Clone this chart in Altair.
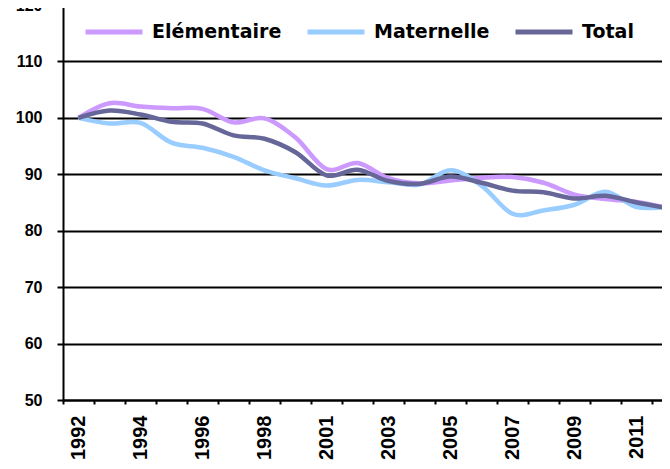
import json
import altair as alt
import pandas as pd

years = ["1992", "1993", "1994", "1995", "1996", "1997", "1998", "1999", "2001", "2002",
         "2003", "2004", "2005", "2006", "2007", "2008", "2009", "2010", "2011", "2012"]
elementaire = [100.0, 102.6, 102.0, 101.7, 101.6, 99.2, 99.9, 96.5, 90.9, 92.0,
               89.3, 88.4, 88.9, 89.4, 89.5, 88.5, 86.4, 85.6, 85.1, 84.0]
maternelle = [100.0, 99.0, 99.1, 95.6, 94.7, 93.1, 90.7, 89.3, 88.0, 89.0,
              88.6, 88.2, 90.7, 88.0, 83.0, 83.6, 84.6, 86.9, 84.2, 84.3]
total = [100.0, 101.3, 100.6, 99.3, 99.0, 96.9, 96.3, 93.9, 89.8, 90.8,
         88.8, 88.3, 89.6, 88.5, 87.1, 86.8, 85.7, 86.2, 85.0, 84.0]
series_names = ["Elémentaire", "Maternelle", "Total"]
colors = ["#CC99FF", "#99CCFF", "#666699"]
y_ticks = [50, 60, 70, 80, 90, 100, 110, 120]

rows = []
for name, vals in zip(series_names, [elementaire, maternelle, total]):
    for i, v in enumerate(vals):
        rows.append({"i": i, "year": years[i], "serie": name, "v": v})
df = pd.DataFrame(rows)

tick_values = [k - 0.5 for k in range(len(years) + 1)]
label_expr = (
    f"(datum.value + 0.5) % 2 == 0 && datum.value + 0.5 < {len(years) - 1} "
    f"? {json.dumps(years)}[datum.value + 0.5] : ''"
)

x_axis = alt.Axis(
    values=tick_values, labelExpr=label_expr, labelOffset=15.5, labelAngle=-90,
    labelFont="Liberation Sans", labelFontWeight="bold", labelFontSize=20,
    labelColor="black", labelPadding=11, labelOverlap=False, labelFlush=False,
    labelBound=False, tickSize=4, tickWidth=2, tickColor="black",
    domainColor="black", domainWidth=2, grid=False, title=None,
)
y_axis = alt.Axis(
    values=y_ticks, grid=True, gridColor="black", gridWidth=2, gridOpacity=1,
    domainColor="black", domainWidth=2, tickColor="black", tickWidth=2, tickSize=6,
    labelFont="Liberation Sans", labelFontWeight="bold", labelFontSize=16,
    labelColor="black", labelPadding=15, labelFlush=False, labelOverlap=False,
    title=None,
)

chart = alt.Chart(df).mark_line(strokeWidth=4.5, interpolate="cardinal", clip=True).encode(
    x=alt.X("i:Q", scale=alt.Scale(domain=[-0.5, 18.82], nice=False, zero=False), axis=x_axis),
    y=alt.Y("v:Q", scale=alt.Scale(domain=[50, 120], nice=False, zero=False), axis=y_axis),
    color=alt.Color(
        "serie:N",
        scale=alt.Scale(domain=series_names, range=colors),
        legend=alt.Legend(
            orient="none", legendX=20, legendY=-4, direction="horizontal", title=None,
            symbolType="stroke", symbolSize=3249, symbolStrokeWidth=5,
            labelFont="DejaVu Sans", labelFontSize=19, labelFontWeight="bold",
            labelColor="black", labelOffset=7, columnPadding=15, labelLimit=400,
            padding=0,
        ),
    ),
    order=alt.Order("i:Q"),
).properties(
    width=599, height=395,
    autosize=alt.AutoSizeParams(type="none"),
    padding={"left": 55, "top": -3, "right": 0, "bottom": 61},
    background="white",
).configure_view(strokeWidth=0)

chart.save("out.html", embed_options={"renderer": "svg", "actions": False})
